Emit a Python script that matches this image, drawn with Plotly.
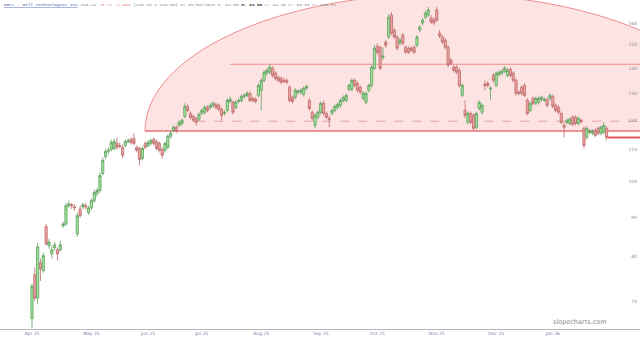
import math
import pandas as pd
import plotly.graph_objects as go

# ---- data ----
opens = [66.6,75.9,70.8,78.6,76.8,87.5,82.7,80.7,82.2,81.7,
         81.7,87.7,88.2,93.1,93.4,92.8,85.6,92.2,92.8,93.1,
         91.2,92.5,94.5,96.5,97.4,102.4,107.7,109.4,110.0,110.3,
         112.0,111.3,110.7,111.3,112.6,113.3,113.6,110.7,110.3,107.1,
         112.0,111.3,112.0,113.3,112.6,112.0,110.0,109.7,110.7,114.4,
         116.4,117.5,118.1,118.8,121.3,125.0,122.4,121.3,120.6,120.3,
         122.4,122.8,124.6,124.6,125.4,125.7,125.4,123.9,122.4,123.5,
         126.8,126.5,124.6,126.8,127.2,128.7,129.1,129.9,128.0,127.6,
         129.1,131.1,135.0,137.9,138.3,139.9,137.9,136.2,135.8,135.0,
         135.0,132.2,128.4,128.4,130.3,130.3,129.5,131.9,127.2,122.8,
         118.1,121.0,122.8,126.1,122.4,120.6,122.4,123.5,124.6,125.4,
         127.2,127.2,131.5,131.5,135.0,133.8,132.2,128.0,126.5,131.1,
         133.0,139.9,149.3,148.9,144.6,151.2,153.5,163.8,156.7,153.5,
         150.7,154.4,148.9,148.5,148.5,148.9,149.8,156.7,160.0,162.8,
         163.8,162.4,161.4,166.3,155.3,153.5,152.1,148.9,143.3,140.4,
         140.4,139.1,129.1,123.5,119.2,122.4,121.7,117.5,124.2,122.8,
         133.4,133.8,131.5,137.0,133.0,137.4,137.9,138.7,137.0,139.5,
         137.9,135.0,130.3,132.2,133.0,127.2,123.5,128.0,126.1,126.5,
         127.6,127.2,127.6,128.0,128.7,125.4,124.6,122.4,118.1,119.2,
         118.8,121.0,121.0,118.8,119.9,117.1,114.0,115.7,115.4,116.4,
         117.1,115.4,115.7,117.1]
closes = [73.4,70.8,82.4,77.2,80.3,83.1,83.6,81.7,82.9,80.7,
          82.9,88.2,93.1,93.6,93.1,92.5,90.4,90.4,93.4,92.8,
          92.5,94.5,96.8,97.4,101.8,106.5,109.4,109.7,112.3,112.6,
          110.7,111.0,108.1,112.6,113.0,112.3,112.0,109.7,106.8,110.3,
          110.7,112.3,113.0,112.0,110.3,109.7,108.1,112.0,114.4,115.4,
          117.5,116.1,119.2,119.9,125.0,123.5,121.0,119.9,119.2,122.0,
          123.5,124.6,123.5,125.4,126.1,124.6,123.9,121.7,122.8,127.2,
          127.6,122.8,126.5,127.2,128.7,129.1,129.9,127.2,127.2,126.8,
          133.0,135.0,138.3,139.1,140.4,137.0,135.8,135.0,134.2,134.6,
          134.2,127.2,126.8,131.1,130.7,131.1,131.9,132.6,124.2,120.6,
          121.7,122.8,126.1,122.4,121.0,120.3,123.5,125.0,125.7,127.2,
          128.4,129.1,133.0,135.0,133.0,131.1,130.3,129.9,129.9,133.0,
          140.4,148.5,146.7,139.9,145.0,149.8,162.8,155.3,153.5,148.5,
          152.1,150.7,146.7,146.7,147.6,146.7,153.5,158.1,161.4,164.8,
          166.3,160.5,160.0,161.4,153.9,151.2,148.9,141.2,142.0,139.1,
          138.3,133.0,133.0,121.7,122.4,119.2,117.1,122.4,126.5,125.4,
          133.0,133.0,131.9,135.0,137.9,138.3,138.7,139.9,139.1,137.0,
          135.0,129.9,129.9,129.9,129.1,122.4,126.1,126.1,128.0,128.0,
          128.4,127.6,125.4,129.1,125.0,123.5,122.8,119.2,117.5,119.9,
          120.3,118.5,118.8,120.6,119.6,111.3,117.1,116.1,116.1,114.7,
          115.4,117.5,118.1,114.0]
highs = [73.8,77.5,83.4,79.6,81.0,88.2,84.4,82.7,83.6,82.2,
         83.9,88.8,93.9,94.5,93.9,93.6,91.2,93.1,93.9,93.9,
         93.1,95.1,97.7,98.2,102.7,107.4,110.3,110.7,113.3,113.6,
         114.0,112.3,111.6,113.3,113.6,114.0,115.4,111.3,111.0,111.0,
         112.6,113.0,113.6,114.0,113.3,112.6,110.7,112.6,115.0,116.1,
         118.1,118.1,119.9,120.6,126.1,125.7,123.1,122.0,121.3,122.8,
         124.2,125.4,125.4,126.1,126.8,126.5,126.1,124.6,123.5,128.0,
         128.7,127.2,127.2,128.0,129.5,129.9,130.7,130.7,128.7,128.4,
         133.8,135.8,139.1,139.9,141.6,140.8,138.7,137.0,136.6,136.2,
         135.8,133.0,129.1,131.9,131.5,131.9,132.6,133.4,128.0,123.5,
         122.4,123.5,126.8,127.2,123.1,121.7,124.2,125.7,126.5,128.0,
         129.1,129.9,133.8,135.8,135.8,134.6,133.0,130.7,130.7,133.8,
         141.2,149.8,150.7,149.8,148.9,152.1,164.3,165.3,157.6,154.4,
         153.0,155.3,149.8,149.3,149.3,149.8,154.4,159.0,162.4,165.8,
         167.8,163.8,162.8,167.8,156.7,154.4,153.0,149.8,144.1,141.2,
         141.2,139.9,133.8,127.2,123.1,123.1,122.4,123.1,127.2,126.1,
         135.0,134.6,132.6,137.9,138.7,139.1,139.5,140.8,139.9,140.4,
         138.7,135.8,131.1,133.0,133.8,128.0,126.8,128.7,128.7,128.7,
         129.1,128.4,128.4,129.9,129.5,126.1,125.4,123.1,119.2,120.6,
         121.0,121.7,121.7,121.3,120.6,117.8,117.8,116.8,116.8,117.1,
         117.8,118.1,119.2,117.8]
lows = [64.8,70.2,69.6,74.5,76.3,82.7,81.9,79.6,81.5,79.1,
        81.2,87.2,87.7,92.5,92.2,91.7,84.9,89.8,92.2,92.0,
        90.6,92.0,93.9,95.6,96.8,101.8,106.8,108.4,109.4,109.7,
        110.0,110.3,107.1,110.7,112.0,111.6,111.3,109.0,104.9,106.5,
        110.0,110.7,111.3,111.3,109.7,109.0,107.1,109.0,110.0,113.6,
        115.7,115.4,117.5,118.1,120.6,122.8,120.3,119.2,118.1,119.6,
        121.7,122.0,122.8,123.9,124.6,123.9,123.1,119.9,121.7,122.8,
        126.1,122.0,123.9,126.1,126.5,128.0,128.4,126.5,126.5,126.1,
        128.4,123.5,134.2,137.0,137.4,136.2,135.0,134.2,133.4,133.8,
        133.4,126.5,126.1,127.6,129.5,129.5,128.7,131.1,123.5,119.9,
        117.1,120.3,122.0,121.7,120.3,117.5,121.7,122.8,123.9,124.6,
        126.5,126.5,130.7,130.7,132.2,130.3,129.5,127.2,125.7,130.3,
        132.2,139.1,145.5,139.1,143.3,148.5,152.6,154.4,152.6,147.6,
        149.8,149.8,145.9,145.9,146.7,145.9,148.9,155.7,159.0,161.9,
        162.8,159.5,159.0,160.5,153.0,150.3,148.0,140.4,141.2,138.3,
        137.4,132.2,128.4,120.6,118.5,118.5,116.4,116.8,123.5,122.0,
        131.1,132.2,127.2,134.2,132.2,136.6,137.0,137.9,136.2,136.2,
        134.2,129.1,129.1,129.1,128.4,121.7,122.8,125.4,125.4,125.7,
        126.8,126.5,124.6,127.2,124.2,122.8,122.0,118.5,114.0,118.5,
        118.1,117.8,118.1,118.1,118.8,110.3,113.3,115.0,114.7,114.0,
        114.7,114.7,115.0,113.0]

dates = [d.strftime("%Y-%m-%d") for d in pd.bdate_range("2025-04-01", periods=len(opens))]

tick_labels = ["Apr 25", "May 25", "Jun 25", "Jul 25", "Aug 25",
               "Sep 25", "Oct 25", "Nov 25", "Dec 25", "Jan 26"]
tick_bars = [0, 21, 41, 60, 81, 102, 122, 143, 164, 184]
y_ticks = [70, 80, 90, 100, 110, 120, 130, 140, 150, 160]

# drawn levels (prices)
arc_base = 116.2
resistance = 141.6
dashed_level = 119.6
resistance_start = 70
dashed_start = 58

fig = go.Figure()
fig.add_trace(go.Candlestick(
    x=dates, open=opens, high=highs, low=lows, close=closes,
    increasing=dict(fillcolor="#9ee69a", line=dict(color="#5e9e5e", width=0.8)),
    decreasing=dict(fillcolor="#eea3a3", line=dict(color="#bf6c6c", width=0.8)),
    whiskerwidth=0, showlegend=False, hoverinfo="skip"))

# half-ellipse drawing (paper coords), flat base on the arc_base level
cx, cy, rx, ry = 0.6875, 0.6018, 0.4609, 0.4164
k = 0.5523
path = (f"M {cx-rx},{cy} C {cx-rx},{cy+k*ry} {cx-k*rx},{cy+ry} {cx},{cy+ry} "
        f"C {cx+k*rx},{cy+ry} {cx+rx},{cy+k*ry} {cx+rx},{cy} Z")
shapes = [
    dict(type="path", xref="paper", yref="paper", path=path, layer="below",
         fillcolor="rgba(245,70,70,0.15)", line=dict(color="#ef8e8e", width=1)),
    dict(type="line", xref="paper", yref="y", x0=cx - rx, x1=1, y0=arc_base, y1=arc_base,
         layer="below", line=dict(color="#ec8585", width=1.5)),
    dict(type="line", xref="x", yref="y", x0=dates[resistance_start], x1=240,
         y0=resistance, y1=resistance, layer="below", line=dict(color="#ee8a8a", width=1.2)),
    dict(type="line", xref="x", yref="y", x0=dates[dashed_start], x1=240,
         y0=dashed_level, y1=dashed_level, layer="below",
         line=dict(color="#d99393", width=0.8, dash="dash")),
    dict(type="line", xref="x", yref="y", x0=len(dates) - 0.6, x1=240,
         y0=closes[-1], y1=closes[-1], line=dict(color="#e35a5a", width=2)),
]

title = ("<span style='color:#4a5ab0'><u>DELL - Dell Technologies Inc</u></span>"
         "<span style='color:#888'> 118.24 </span>"
         "<span style='color:#e88080'>-8.22 -1.99%</span>"
         "<span style='color:#888'> (118.16 x 118.00) D: 01/06/2026 O: 91.55 </span>"
         "<span style='color:#333'><b>H: 93.60</b></span>"
         "<span style='color:#888'> L: 91.40 C: 93.03 V: 100.02</span>")

fig.update_layout(
    width=640, height=340,
    margin=dict(l=0, r=0, t=0, b=11),
    paper_bgcolor="white", plot_bgcolor="white",
    boxgap=0.22, boxgroupgap=0,
    shapes=shapes,
    annotations=[
        dict(text=title, xref="paper", yref="paper", x=0.003, y=1, xanchor="left",
             yanchor="top", showarrow=False, font=dict(family="Liberation Mono", size=4.4)),
        dict(text="slopecharts.com", xref="paper", yref="paper", x=0.952, y=0.0,
             xanchor="right", yanchor="bottom", yshift=1, showarrow=False,
             font=dict(family="DejaVu Sans", size=6.5, color="#8a8a8a")),
    ],
    xaxis=dict(type="category", range=[-11.3, 214.8], rangeslider=dict(visible=False),
               tickvals=[dates[i] for i in tick_bars], ticktext=tick_labels,
               showgrid=False, showline=True, linecolor="#b8b8b8", linewidth=1,
               ticks="", ticklen=0, tickfont=dict(family="DejaVu Sans", size=4.5, color="#7a80b0"),
               zeroline=False),
    yaxis=dict(type="log", side="right", range=[math.log10(64.6), math.log10(171.3)],
               tickvals=y_ticks, ticktext=[str(v) for v in y_ticks],
               ticklabelposition="inside", showgrid=False, zeroline=False,
               tickfont=dict(family="DejaVu Sans", size=4.5, color="#8a8a8a")),
)

fig.write_html("out.html")
